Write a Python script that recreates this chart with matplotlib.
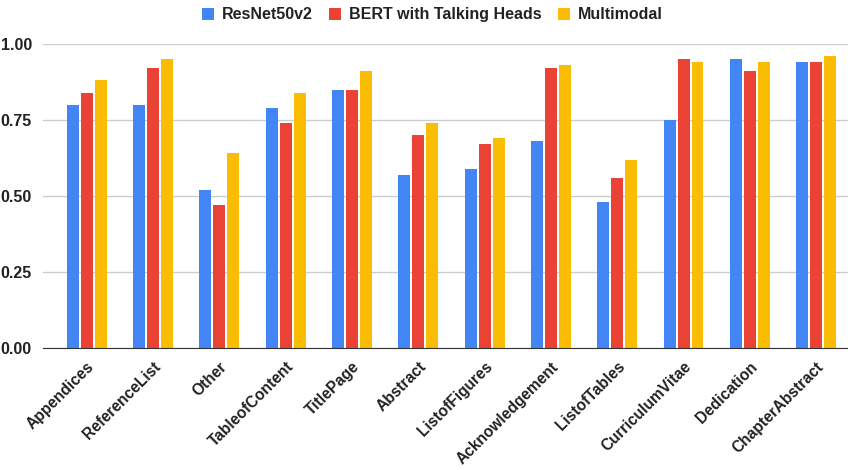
import matplotlib.pyplot as plt
import numpy as np

# datos
categorias = ['Appendices', 'ReferenceList', 'Other', 'TableofContent', 'TitlePage',
              'Abstract', 'ListofFigures', 'Acknowledgement', 'ListofTables',
              'CurriculumVitae', 'Dedication', 'ChapterAbstract']
resnet = [0.80, 0.80, 0.52, 0.79, 0.85, 0.57, 0.59, 0.68, 0.48, 0.75, 0.95, 0.94]
bert = [0.84, 0.92, 0.47, 0.74, 0.85, 0.70, 0.67, 0.92, 0.56, 0.95, 0.91, 0.94]
multimodal = [0.88, 0.95, 0.64, 0.84, 0.91, 0.74, 0.69, 0.93, 0.62, 0.94, 0.94, 0.96]
series = ['ResNet50v2', 'BERT with Talking Heads', 'Multimodal']
colores = ['#4285F4', '#EA4335', '#FBBC04']

plt.rcParams['font.family'] = ['Liberation Sans', 'DejaVu Sans']
plt.rcParams['font.weight'] = 'bold'

fig = plt.figure(figsize=(8.48, 4.70), dpi=100)
ax = fig.add_axes([43/848, 122/470, 805/848, 304/470])

x = np.arange(len(categorias))
ancho = 0.18
paso = 0.21
for i, (vals, nombre, c) in enumerate(zip([resnet, bert, multimodal], series, colores)):
    ax.bar(x + (i - 1) * paso, vals, ancho, color=c, label=nombre, zorder=3)

ax.set_ylim(0, 1.0)
ax.set_xlim(-0.66, 11.48)
ax.set_yticks([0, 0.25, 0.5, 0.75, 1.0])
ax.set_yticklabels(['0.00', '0.25', '0.50', '0.75', '1.00'])
ax.yaxis.grid(True, color='#cccccc', linewidth=1, zorder=0)
ax.tick_params(axis='y', length=0, pad=8, labelsize=11.5, labelcolor='#222222')
ax.tick_params(axis='x', length=0, pad=8, labelsize=11.2, labelcolor='#222222')
for s in ['top', 'right', 'left']:
    ax.spines[s].set_visible(False)
ax.spines['bottom'].set_color('#333333')
ax.spines['bottom'].set_zorder(4)

ax.set_xticks(x)
ax.set_xticklabels(categorias, rotation=45, ha='right', rotation_mode='anchor')

fig.legend(loc='upper center', bbox_to_anchor=(0.51, 1.015), ncol=3, frameon=False,
           fontsize=11.5, handlelength=0.75, handleheight=0.75, handletextpad=0.5,
           columnspacing=1.0, labelcolor='#222222')

plt.savefig('out.png', dpi=100)
